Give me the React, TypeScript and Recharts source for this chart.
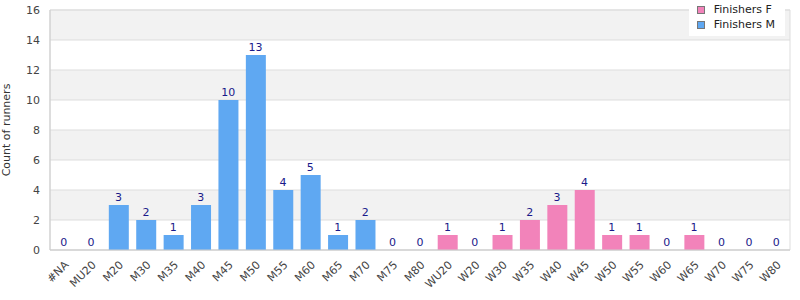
import React from 'react';
import { ComposedChart, Bar, Line, XAxis, YAxis, CartesianGrid, LabelList, Cell, ReferenceArea } from 'recharts';

const categories = ['#NA','MU20','M20','M30','M35','M40','M45','M50','M55','M60','M65','M70','M75','M80','WU20','W20','W30','W35','W40','W45','W50','W55','W60','W65','W70','W75','W80'];
const counts = [0,0,3,2,1,3,10,13,4,5,1,2,0,0,1,0,1,2,3,4,1,1,0,1,0,0,0];
const groups = ['M','M','M','M','M','M','M','M','M','M','M','M','M','M','F','F','F','F','F','F','F','F','F','F','F','F','F'];
const yTicks = [0,2,4,6,8,10,12,14,16];
const seriesNames = { F: 'Finishers F', M: 'Finishers M' };
const colors = { F: '#f283ba', M: '#5fa8f2' };

const data = categories.map((c, i) => ({ cat: c, value: counts[i], group: groups[i] }));

const FONT = '"DejaVu Sans", Verdana, sans-serif';

const LegendBox = () => (
  <div style={{ position: 'absolute', top: 0, right: 15, background: '#fff', padding: '2px 10px 4px 8px', fontFamily: FONT, fontSize: 11, color: '#222', lineHeight: '15px' }}>
    {(['F', 'M'] as const).map(k => (
      <div key={k} style={{ display: 'flex', alignItems: 'center' }}>
        <span style={{ display: 'inline-block', width: 6, height: 6, background: colors[k], border: '1px solid #777', marginRight: 9 }} />
        <span>{seriesNames[k]}</span>
      </div>
    ))}
  </div>
);

const YLabel = (props: any) => {
  const vb = props.viewBox || {};
  const cx = 6;
  const cy = (vb.y ?? 10) + (vb.height ?? 240) / 2;
  return (
    <text x={cx} y={cy} transform={`rotate(-90, ${cx}, ${cy})`} textAnchor="middle" dominantBaseline="central"
      style={{ fontSize: 11, fill: '#333', fontFamily: FONT }}>Count of runners</text>
  );
};

export default function App() {
  return (
    <div style={{ position: 'absolute', left: 0, top: 0, width: 800, height: 300, background: '#fff' }}>
      <ComposedChart width={800} height={300} data={data} margin={{ top: 10, right: 10, left: 0, bottom: 0 }} barSize={20}>
        <CartesianGrid vertical={false} stroke="#dddddd" horizontalFill={['#f2f2f2', '#ffffff']} fillOpacity={1} />
        <XAxis dataKey="cat" interval={0} height={50} tickLine={false} axisLine={{ stroke: '#cccccc' }}
          angle={-45} textAnchor="end" tick={{ fontSize: 11, fill: '#444', fontFamily: FONT }} tickMargin={4} />
        <YAxis domain={[0, 16]} ticks={yTicks} width={50} tickLine={false} tickSize={0} tickMargin={10}
          axisLine={{ stroke: '#cccccc' }} tick={{ fontSize: 11, fill: '#444', fontFamily: FONT }}
          label={<YLabel />} />
        <ReferenceArea y1={0} y2={16} fill="none" stroke="#dddddd" ifOverflow="visible" />
        <Bar dataKey="value" isAnimationActive={false}>
          {data.map((d, i) => (
            <Cell key={i} fill={colors[d.group as 'F' | 'M']} />
          ))}
        </Bar>
        <Line dataKey="value" stroke="none" dot={false} activeDot={false} isAnimationActive={false} legendType="none">
          <LabelList dataKey="value" position="top" offset={4} style={{ fontSize: 11, fill: '#1a1a8a', fontFamily: FONT }} />
        </Line>
      </ComposedChart>
      <LegendBox />
    </div>
  );
}
